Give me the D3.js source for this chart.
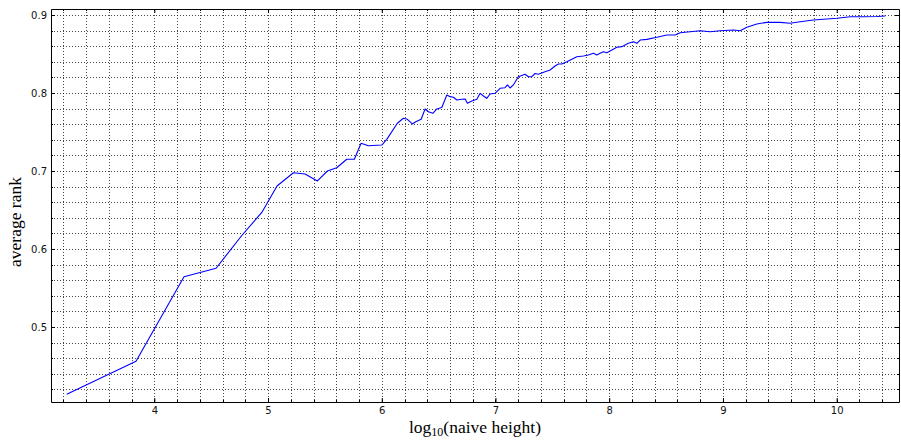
<!DOCTYPE html>
<html>
<head>
<meta charset="utf-8">
<script src="https://cdn.jsdelivr.net/npm/d3@7"></script>
<style>
  html, body { margin: 0; padding: 0; background: #fff; }
  svg { display: block; }
</style>
</head>
<body>
<svg id="chart" width="901" height="440"></svg>
<script>
// ---- data ----
const logHeight = [3.230, 3.839, 4.261, 4.543, 4.769, 4.945, 5.079, 5.223, 5.325, 5.434,
  5.522, 5.604, 5.692, 5.759, 5.818, 5.882, 6.000, 6.044, 6.137, 6.190,
  6.225, 6.269, 6.299, 6.346, 6.381, 6.410, 6.449, 6.484, 6.528, 6.572,
  6.601, 6.630, 6.660, 6.704, 6.733, 6.753, 6.792, 6.836, 6.865, 6.894,
  6.923, 6.952, 6.996, 7.040, 7.084, 7.105, 7.128, 7.157, 7.201, 7.260,
  7.289, 7.319, 7.348, 7.377, 7.436, 7.480, 7.524, 7.553, 7.583, 7.627,
  7.671, 7.715, 7.773, 7.817, 7.861, 7.891, 7.920, 7.949, 7.979, 8.023,
  8.067, 8.111, 8.155, 8.169, 8.213, 8.243, 8.272, 8.331, 8.419, 8.507,
  8.580, 8.624, 8.712, 8.800, 8.888, 8.976, 9.092, 9.151, 9.210, 9.298,
  9.386, 9.503, 9.591, 9.679, 9.796, 9.914, 10.002, 10.119, 10.236, 10.354, 10.427];
const avgRank = [0.4137, 0.4560, 0.5645, 0.5753, 0.6173, 0.6468, 0.6808, 0.6978, 0.6962, 0.6872,
  0.7000, 0.7042, 0.7150, 0.7150, 0.7355, 0.7324, 0.7333, 0.7406, 0.7612, 0.7676,
  0.7663, 0.7603, 0.7632, 0.7663, 0.7795, 0.7760, 0.7740, 0.7795, 0.7814, 0.7974,
  0.7953, 0.7945, 0.7910, 0.7919, 0.7923, 0.7868, 0.7897, 0.7919, 0.7996, 0.7962,
  0.7932, 0.7987, 0.7996, 0.8060, 0.8068, 0.8103, 0.8064, 0.8103, 0.8209, 0.8240,
  0.8209, 0.8209, 0.8250, 0.8240, 0.8273, 0.8295, 0.8346, 0.8372, 0.8372, 0.8401,
  0.8432, 0.8465, 0.8474, 0.8487, 0.8509, 0.8487, 0.8509, 0.8530, 0.8517, 0.8551,
  0.8586, 0.8594, 0.8628, 0.8637, 0.8658, 0.8637, 0.8679, 0.8688, 0.8714, 0.8744,
  0.8744, 0.8773, 0.8786, 0.8799, 0.8786, 0.8799, 0.8808, 0.8799, 0.8842, 0.8885,
  0.8906, 0.8906, 0.8894, 0.8914, 0.8936, 0.8949, 0.8958, 0.8978, 0.8978, 0.8981, 0.8987];

const xMajorTicks = [4, 5, 6, 7, 8, 9, 10];
const yMajorTicks = [0.5, 0.6, 0.7, 0.8, 0.9];
const xMinorTicks = d3.range(16, 53).map(i => +(i * 0.2).toFixed(2));     // 3.2 .. 10.4
const yMinorTicks = d3.range(21, 46).map(i => +(i * 0.02).toFixed(2));    // 0.42 .. 0.90
const xLabel = "log";
const xLabelSub = "10";
const xLabelRest = "(naive height)";
const yLabel = "average rank";

// ---- layout ----
const L = 51, R = 899, T = 9, B = 402;
const svg = d3.select("#chart");

const x = d3.scaleLinear().domain([3.0915, 10.548]).range([L, R]);
const y = d3.scaleLinear().domain([0.4038, 0.9077]).range([B, T]);

// grid (dotted) at every minor position
const grid = svg.append("g").attr("stroke", "#000").attr("stroke-opacity", 0.72).attr("stroke-width", 1)
  .attr("stroke-dasharray", "1,2").attr("shape-rendering", "crispEdges");
grid.selectAll("line.gx").data(xMinorTicks).join("line")
  .attr("x1", d => Math.round(x(d)) + 0.5).attr("x2", d => Math.round(x(d)) + 0.5)
  .attr("y1", T).attr("y2", B);
grid.selectAll("line.gy").data(yMinorTicks).join("line")
  .attr("y1", d => Math.round(y(d)) + 0.5).attr("y2", d => Math.round(y(d)) + 0.5)
  .attr("x1", L).attr("x2", R);

// line
const line = d3.line().x((d, i) => x(logHeight[i])).y((d, i) => y(avgRank[i]));
svg.append("path").datum(avgRank).attr("d", line)
  .attr("fill", "none").attr("stroke", "#0000ff").attr("stroke-width", 1.1)
  .attr("stroke-linejoin", "round");

// axes: major ticks inward, with labels
function styleAxis(g) {
  g.selectAll("text").attr("font-family", "DejaVu Sans").attr("font-size", 10).attr("fill", "#111");
  g.selectAll("line").attr("stroke", "#000");
  g.select(".domain").attr("stroke", "#000");
}
const fmt = d3.format(".1f");
svg.append("g").attr("transform", `translate(0,${B})`)
  .call(d3.axisBottom(x).tickValues(xMajorTicks).tickSize(-4).tickPadding(5).tickSizeOuter(0).tickFormat(d3.format("d")))
  .call(styleAxis);
svg.append("g").attr("transform", `translate(${L},0)`)
  .call(d3.axisLeft(y).tickValues(yMajorTicks).tickSize(-4).tickPadding(4).tickSizeOuter(0).tickFormat(fmt))
  .call(styleAxis);
svg.append("g").attr("transform", `translate(0,${T})`)
  .call(d3.axisTop(x).tickValues(xMajorTicks).tickSize(-4).tickSizeOuter(0).tickFormat(""))
  .call(styleAxis);
svg.append("g").attr("transform", `translate(${R},0)`)
  .call(d3.axisRight(y).tickValues(yMajorTicks).tickSize(-4).tickSizeOuter(0).tickFormat(""))
  .call(styleAxis);

// minor ticks on all four sides
const minor = svg.append("g").attr("stroke", "#000").attr("stroke-width", 1).attr("shape-rendering", "crispEdges");
minor.selectAll("line.mb").data(xMinorTicks).join("line")
  .attr("x1", d => Math.round(x(d)) + 0.5).attr("x2", d => Math.round(x(d)) + 0.5).attr("y1", B).attr("y2", B - 2);
minor.selectAll("line.mt").data(xMinorTicks).join("line")
  .attr("x1", d => Math.round(x(d)) + 0.5).attr("x2", d => Math.round(x(d)) + 0.5).attr("y1", T).attr("y2", T + 2);
minor.selectAll("line.ml").data(yMinorTicks).join("line")
  .attr("y1", d => Math.round(y(d)) + 0.5).attr("y2", d => Math.round(y(d)) + 0.5).attr("x1", L).attr("x2", L + 2);
minor.selectAll("line.mr").data(yMinorTicks).join("line")
  .attr("y1", d => Math.round(y(d)) + 0.5).attr("y2", d => Math.round(y(d)) + 0.5).attr("x1", R).attr("x2", R - 2);

// axis labels
const xl = svg.append("text").attr("x", (L + R) / 2).attr("y", 433)
  .attr("text-anchor", "middle").attr("font-family", "Liberation Serif").attr("font-size", 17.5).attr("fill", "#000");
xl.append("tspan").text(xLabel);
xl.append("tspan").attr("font-size", 12).attr("dy", 3).text(xLabelSub);
xl.append("tspan").attr("dy", -3).text(xLabelRest);

svg.append("text").attr("transform", `translate(21,222) rotate(-90)`)
  .attr("text-anchor", "middle").attr("font-family", "Liberation Serif").attr("font-size", 17.5).attr("fill", "#000")
  .text(yLabel);
</script>
</body>
</html>
